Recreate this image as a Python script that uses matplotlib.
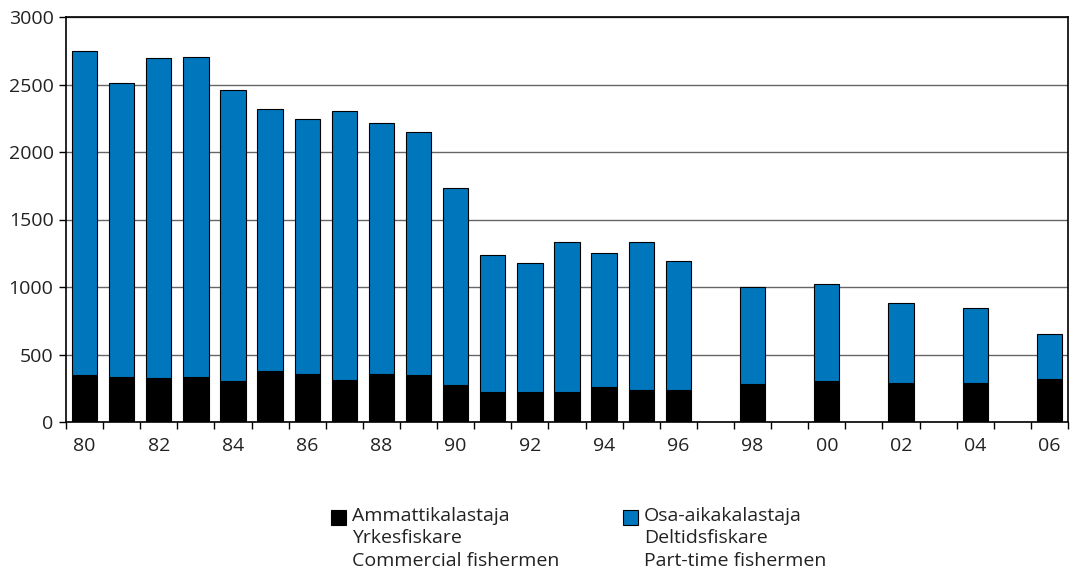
import matplotlib.pyplot as plt
import numpy as np
from matplotlib.patches import Rectangle

plt.rcParams['font.family'] = ['Open Sans', 'DejaVu Sans']

# years 1980-2006, no data for the odd years after 1996
years = ['80', '81', '82', '83', '84', '85', '86', '87', '88', '89', '90',
         '91', '92', '93', '94', '95', '96', '97', '98', '99', '00', '01',
         '02', '03', '04', '05', '06']
total = [2750, 2510, 2695, 2700, 2460, 2320, 2245, 2300, 2215, 2150, 1735,
         1240, 1180, 1335, 1255, 1335, 1190, 0, 1000, 0, 1020, 0,
         880, 0, 845, 0, 650]
commercial = [345, 335, 325, 330, 305, 375, 355, 310, 355, 350, 275,
              225, 220, 225, 260, 240, 235, 0, 280, 0, 305, 0,
              290, 0, 290, 0, 320]
parttime = [t - c for t, c in zip(total, commercial)]

labels_fi = ['Ammattikalastaja\nYrkesfiskare\nCommercial fishermen',
             'Osa-aikakalastaja\nDeltidsfiskare\nPart-time fishermen']

blue = '#0077bd'

fig = plt.figure(figsize=(10.73, 5.8), dpi=100)
ax = fig.add_axes([66/1073, 158/580, 1002/1073, 405/580])

x = np.arange(len(years))
has = np.array(total) > 0
ax.bar(x[has], np.array(commercial)[has], width=0.68, color='black',
       edgecolor='black', linewidth=0.8, zorder=3)
ax.bar(x[has], np.array(parttime)[has], bottom=np.array(commercial)[has],
       width=0.68, color=blue, edgecolor='black', linewidth=0.8, zorder=3)

ax.set_xlim(-0.5, len(years) - 0.5)
ax.set_ylim(0, 3000)
ax.set_yticks(np.arange(0, 3001, 500))
ax.yaxis.grid(True, color='#666666', linewidth=1)
ax.set_axisbelow(True)

ax.set_xticks(x[::2])
ax.set_xticklabels(years[::2])
ax.set_xticks(np.arange(-0.5, len(years)), minor=True)
ax.tick_params(axis='x', which='major', length=0, pad=11, labelsize=14,
               labelcolor='#222222')
ax.tick_params(axis='x', which='minor', length=5, width=1, direction='out')
ax.tick_params(axis='y', length=5, width=1, labelsize=14, pad=4,
               labelcolor='#222222')
for s in ax.spines.values():
    s.set_linewidth(1.2)

# legend drawn by hand below the chart
for i, (lab, col) in enumerate(zip(labels_fi, ['black', blue])):
    x0 = [331, 623][i]
    fig.patches.append(Rectangle((x0/1073, (580-525)/580), 15/1073, 15/580,
                                 transform=fig.transFigure, facecolor=col,
                                 edgecolor='black', linewidth=0.8))
    fig.text((x0 + 21)/1073, (580-507)/580, lab, ha='left', va='top',
             fontsize=14, linespacing=1.32, color='#222222')

fig.savefig('out.png', dpi=100)
